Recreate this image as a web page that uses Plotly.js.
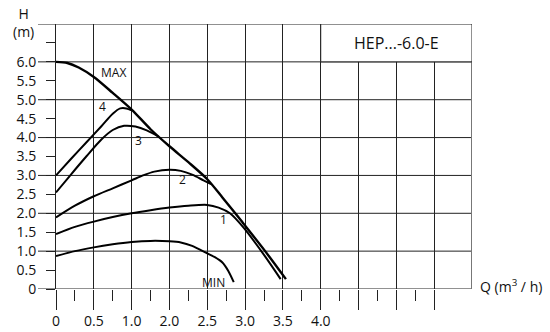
<!DOCTYPE html>
<html>
<head>
<meta charset="utf-8">
<script src="https://cdn.plot.ly/plotly-3.0.1.min.js"></script>
<style>html,body{margin:0;padding:0;background:#fff;}#chart{width:550px;height:332px;}</style>
</head>
<body>
<div id="chart"></div>
<script>
// Axis coordinates (one grid cell = 0.5 on the Q axis)
const xTickVals = [0, 0.5, 1.0, 1.5, 2.0, 2.5, 3.0, 3.5, 4.0, 4.5, 5.0];
const xTickText = ["0", "0.5", "1.0", "2.0", "2.5", "3.0", "3.5", "4.0", "", "", ""];
const xMinorVals = [0.25, 0.75, 1.25, 1.75, 2.25, 2.75, 3.25, 3.75, 4.25, 4.75];
const yTickVals = [0, 0.5, 1.0, 1.5, 2.0, 2.5, 3.0, 3.5, 4.0, 4.5, 5.0, 5.5, 6.0, 6.5];
const yTickText = ["0", "0.5", "1.0", "1.5", "2.0", "2.5", "3.0", "3.5", "4.0", "4.5", "5.0", "5.5", "6.0", ""];
const gridH = [0, 1, 2, 3, 4, 5, 6, 7];

// Curves
const maxQ = [0, 0.15, 0.3, 0.5, 0.75, 1.0, 1.25, 1.5, 1.75, 2.0, 2.2, 2.45, 2.75, 3.04];
const maxH = [6.0, 5.97, 5.85, 5.6, 5.18, 4.74, 4.22, 3.77, 3.35, 2.9, 2.42, 1.8, 1.04, 0.26];
const c4Q = [0, 0.2, 0.4, 0.6, 0.75, 0.85, 0.93, 1.0];
const c4H = [3.0, 3.44, 3.87, 4.3, 4.63, 4.77, 4.77, 4.72];
const c3Q = [0, 0.2, 0.4, 0.6, 0.75, 0.9, 1.05, 1.2, 1.36];
const c3H = [2.55, 3.03, 3.5, 3.95, 4.2, 4.31, 4.29, 4.19, 4.02];
const c2Q = [0, 0.25, 0.5, 0.75, 1.0, 1.15, 1.3, 1.5, 1.65, 1.8, 1.95, 2.05];
const c2H = [1.89, 2.2, 2.45, 2.66, 2.87, 3.0, 3.1, 3.15, 3.12, 3.02, 2.87, 2.77];
const c1Q = [0, 0.25, 0.5, 0.75, 1.0, 1.25, 1.5, 1.75, 2.0, 2.15, 2.3, 2.48, 2.75, 2.97];
const c1H = [1.45, 1.64, 1.78, 1.9, 2.0, 2.08, 2.15, 2.2, 2.22, 2.15, 2.0, 1.62, 0.9, 0.26];
const minQ = [0, 0.25, 0.5, 0.75, 1.0, 1.25, 1.5, 1.65, 1.8, 2.0, 2.1, 2.2, 2.28, 2.35];
const minH = [0.87, 1.0, 1.1, 1.18, 1.24, 1.27, 1.26, 1.23, 1.14, 0.94, 0.84, 0.7, 0.47, 0.18];

// Curve labels
const labText = ["MAX", "4", "3", "2", "1", "MIN"];
const labQ = [0.76, 0.62, 1.09, 1.67, 2.21, 2.08];
const labH = [5.71, 4.81, 3.92, 2.88, 1.83, 0.16];

const font = "Open Sans, Noto Sans, sans-serif";
const curves = [[maxQ, maxH, 2.4], [c4Q, c4H, 2], [c3Q, c3H, 2], [c2Q, c2H, 2], [c1Q, c1H, 2], [minQ, minH, 2]];
const traces = curves.map(c => ({
  x: c[0], y: c[1], type: "scatter", mode: "lines",
  line: {color: "#000", width: c[2], shape: "spline", smoothing: 0.8},
  hoverinfo: "skip", showlegend: false
}));

const shapes = [];
gridH.forEach(h => shapes.push({type: "line", xref: "paper", yref: "y", x0: -18/416, x1: 1, y0: h, y1: h,
  line: {color: "#222", width: 1}, layer: "below"}));
shapes.push({type: "line", xref: "x", yref: "y", x0: 5.5, x1: 5.5, y0: 0, y1: 7, line: {color: "#777", width: 2}});
shapes.push({type: "rect", xref: "x", yref: "y", x0: 3.5, x1: 5.5, y0: 6, y1: 7, fillcolor: "#fff",
  line: {color: "#222", width: 1}, layer: "above"});

const annotations = labText.map((t, i) => ({x: labQ[i], y: labH[i], xref: "x", yref: "y", text: t,
  showarrow: false, xanchor: "center", yanchor: "middle", font: {family: font, size: 12, color: "#111"}}));
annotations.push({x: 4.5, y: 6.5, xref: "x", yref: "y", text: "HEP...-6.0-E", showarrow: false,
  xanchor: "center", yanchor: "middle", font: {family: font, size: 16, color: "#111"}});
// axis names, placed by pixel position then converted to paper units
const names = [["H<br>(m)", 23, 22], ["Q (m<sup>3</sup> / h)", 511, 286]];
names.forEach(n => annotations.push({text: n[0], x: (n[1] - 56) / 416, y: (332 - n[2] - 43) / 265,
  xref: "paper", yref: "paper", xanchor: "center", yanchor: "middle", showarrow: false,
  font: {family: font, size: 14, color: "#111"}}));

const layout = {
  width: 550, height: 332,
  margin: {l: 56, r: 78, t: 24, b: 43},
  paper_bgcolor: "#fff", plot_bgcolor: "#fff",
  font: {family: font, size: 14, color: "#111"},
  xaxis: {range: [0, 5.5], tickmode: "array", tickvals: xTickVals, ticktext: xTickText,
    showgrid: true, gridcolor: "#222", gridwidth: 1, zeroline: false, showline: false,
    ticks: "outside", ticklen: 20, tickcolor: "#222", tickwidth: 1, ticklabelstandoff: -1,
    tickfont: {family: font, size: 14, color: "#111"},
    minor: {tickmode: "array", tickvals: xMinorVals, ticks: "outside", ticklen: 11, tickcolor: "#222", tickwidth: 1, showgrid: false}},
  yaxis: {range: [0, 7], tickmode: "array", tickvals: yTickVals, ticktext: yTickText,
    showgrid: false, zeroline: false, showline: true, linecolor: "#222", linewidth: 1,
    ticks: "outside", ticklen: 9, tickcolor: "#222", tickwidth: 1, ticklabelstandoff: 7,
    tickfont: {family: font, size: 14, color: "#111"}},
  shapes: shapes, annotations: annotations
};
Plotly.newPlot("chart", traces, layout, {displayModeBar: false, staticPlot: true});
</script>
</body>
</html>
